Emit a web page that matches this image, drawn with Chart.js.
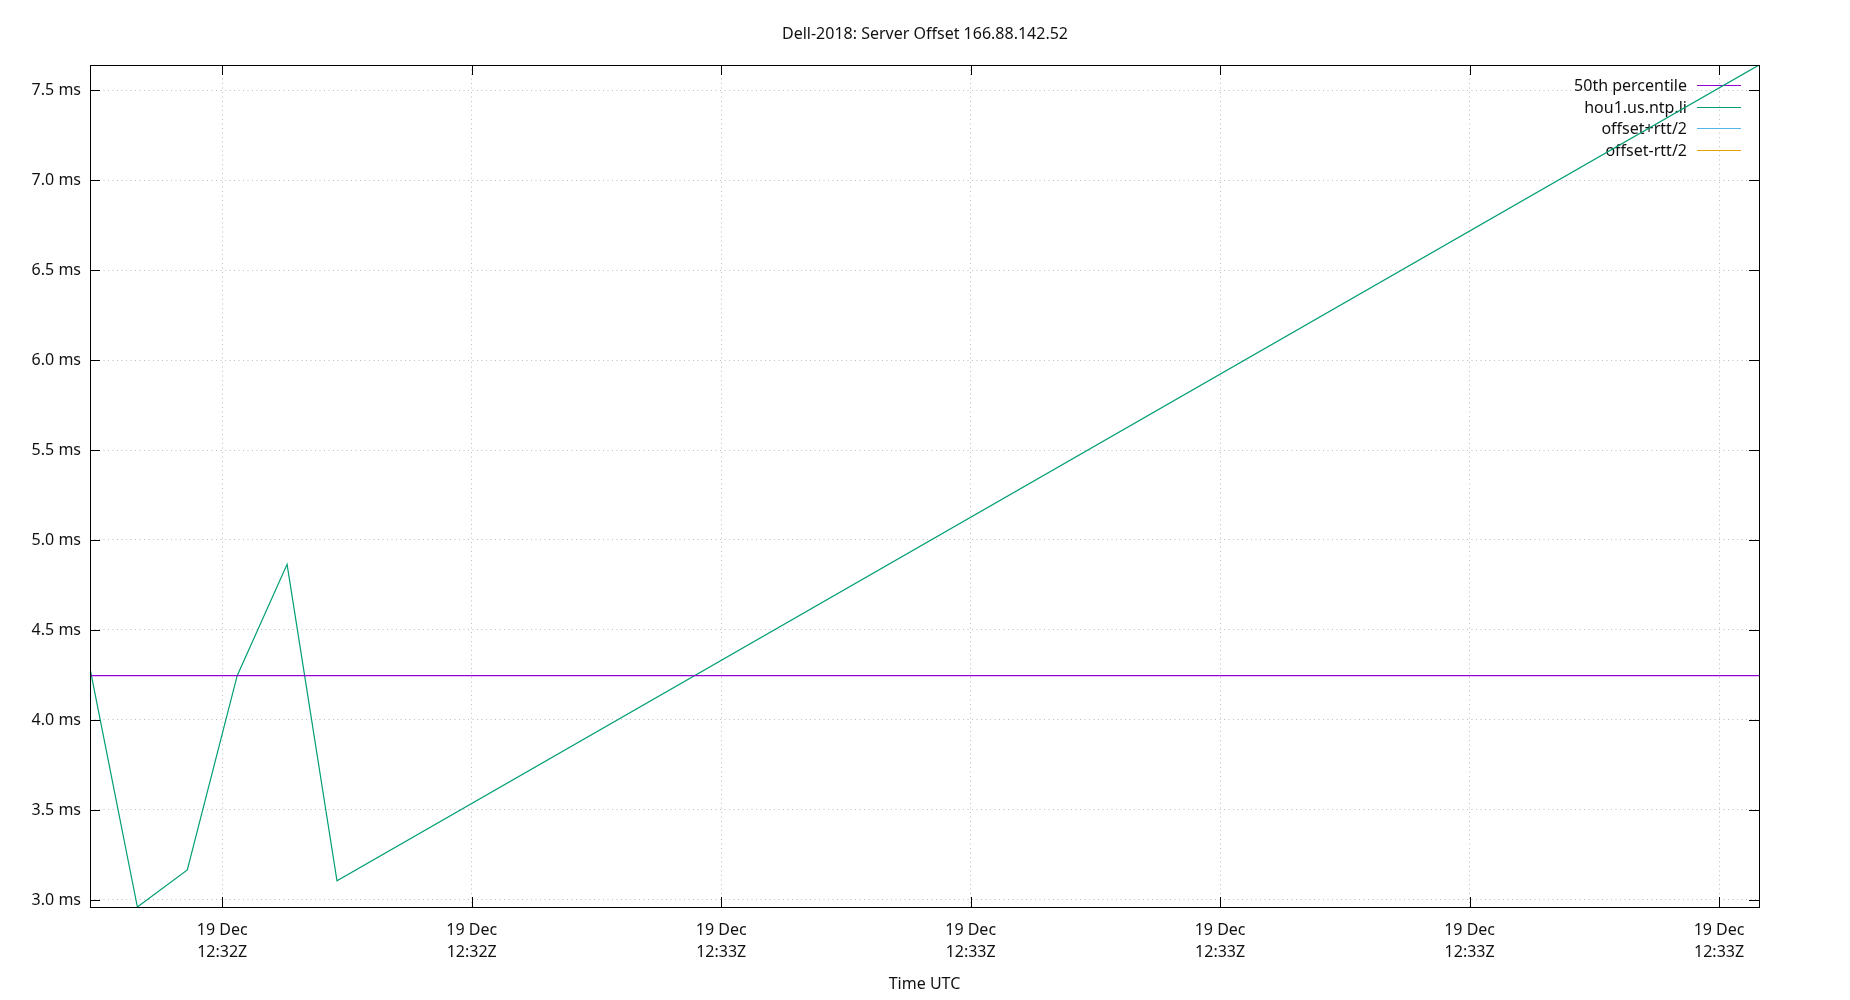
<!DOCTYPE html>
<html>
<head>
<meta charset="utf-8">
<script src="https://cdn.jsdelivr.net/npm/chart.js@4/dist/chart.umd.min.js"></script>
<style>
  body { margin: 0; background: #fff; }
  #wrap { width: 1850px; height: 1000px; }
</style>
</head>
<body>
<div id="wrap"><canvas id="Chart" width="1850" height="1000"></canvas></div>
<script>
// Datos (segundos desde 19 Dec 12:32:00Z, offset en ms)
const timeSec = [34.7, 36.6, 38.6, 40.6, 42.6, 44.6, 101.6];
const offsetMs = [4.287, 2.961, 3.167, 4.246, 4.865, 3.107, 7.639];
const medianMs = [4.246, 4.246];

const xTickValues = [40, 50, 60, 70, 80, 90, 100];
const xTickLabels = [
  ["19 Dec", "12:32Z"], ["19 Dec", "12:32Z"], ["19 Dec", "12:33Z"],
  ["19 Dec", "12:33Z"], ["19 Dec", "12:33Z"], ["19 Dec", "12:33Z"],
  ["19 Dec", "12:33Z"]
];
const yTickValues = [3.0, 3.5, 4.0, 4.5, 5.0, 5.5, 6.0, 6.5, 7.0, 7.5];
const yTickLabels = ["3.0 ms", "3.5 ms", "4.0 ms", "4.5 ms", "5.0 ms",
  "5.5 ms", "6.0 ms", "6.5 ms", "7.0 ms", "7.5 ms"];

const seriesNames = ["50th percentile", "hou1.us.ntp.li", "offset+rtt/2", "offset-rtt/2"];
const seriesColors = ["#9400d3", "#009e73", "#56b4e9", "#e69f00"];

const FONT = "'Noto Sans', 'DejaVu Sans', sans-serif";
const TEXT = "#111111";
const GRID = "#bdbdbd";

const xMin = timeSec[0];
const xMax = timeSec[timeSec.length - 1];

// Marco y marcas hacia adentro (estilo gnuplot)
const framePlugin = {
  id: "frame",
  afterDraw(chart) {
    const { ctx, chartArea: a, scales } = chart;
    ctx.save();
    ctx.strokeStyle = "#000";
    ctx.lineWidth = 1;
    ctx.strokeRect(a.left + 0.5, a.top + 0.5, a.right - a.left, a.bottom - a.top);
    ctx.beginPath();
    yTickValues.forEach(v => {
      const y = Math.round(scales.y.getPixelForValue(v)) + 0.5;
      ctx.moveTo(a.left, y); ctx.lineTo(a.left + 10, y);
      ctx.moveTo(a.right, y); ctx.lineTo(a.right - 10, y);
    });
    xTickValues.forEach(v => {
      const x = Math.round(scales.x.getPixelForValue(v)) + 0.5;
      ctx.moveTo(x, a.bottom); ctx.lineTo(x, a.bottom - 10);
      ctx.moveTo(x, a.top); ctx.lineTo(x, a.top + 10);
    });
    ctx.stroke();
    ctx.restore();
  }
};

// Leyenda: texto a la izquierda, muestra de linea a la derecha
const keyPlugin = {
  id: "key",
  beforeDatasetsDraw(chart) {
    const { ctx } = chart;
    ctx.save();
    ctx.font = "16px " + FONT;
    ctx.textAlign = "right";
    ctx.textBaseline = "middle";
    chart.data.datasets.forEach((ds, i) => {
      const y = 86.5 + i * 21.7;
      ctx.fillStyle = TEXT;
      ctx.fillText(ds.label, 1687, y);
      ctx.strokeStyle = ds.borderColor;
      ctx.lineWidth = 1.2;
      ctx.beginPath();
      ctx.moveTo(1697, Math.round(y - 1.5) + 0.5);
      ctx.lineTo(1741, Math.round(y - 1.5) + 0.5);
      ctx.stroke();
    });
    ctx.restore();
  }
};

const chartCanvas = document.getElementById("Chart");

new Chart(chartCanvas, {
  type: "line",
  data: {
    datasets: [
      {
        label: seriesNames[0],
        data: [{ x: xMin, y: medianMs[0] }, { x: xMax, y: medianMs[1] }],
        borderColor: seriesColors[0],
        borderWidth: 1.2
      },
      {
        label: seriesNames[1],
        data: timeSec.map((t, i) => ({ x: t, y: offsetMs[i] })),
        borderColor: seriesColors[1],
        borderWidth: 1.2
      },
      { label: seriesNames[2], data: [], borderColor: seriesColors[2], borderWidth: 1.2 },
      { label: seriesNames[3], data: [], borderColor: seriesColors[3], borderWidth: 1.2 }
    ]
  },
  options: {
    responsive: false,
    animation: false,
    elements: { point: { radius: 0 }, line: { tension: 0 } },
    layout: { padding: 0 },
    plugins: {
      legend: { display: false },
      tooltip: { enabled: false },
      title: {
        display: true,
        text: "Dell-2018: Server Offset 166.88.142.52",
        color: TEXT,
        font: { family: FONT, size: 16, weight: "normal", lineHeight: 1.2 },
        padding: { top: 24.4, bottom: 21.4 }
      }
    },
    scales: {
      x: {
        type: "linear",
        min: xMin,
        max: xMax,
        afterFit(scale) { scale.height = 93; },
        afterBuildTicks(scale) { scale.ticks = xTickValues.map(v => ({ value: v })); },
        ticks: {
          autoSkip: false,
          maxRotation: 0,
          padding: 12,
          color: TEXT,
          font: { family: FONT, size: 16, lineHeight: 1.375 },
          callback: (value, index) => xTickLabels[index]
        },
        grid: { color: GRID, lineWidth: 1, drawTicks: false },
        border: { display: false, dash: [1, 3.5] },
        title: {
          display: true,
          text: "Time UTC",
          color: TEXT,
          font: { family: FONT, size: 16, lineHeight: 1.2 },
          padding: { top: 0, bottom: 6.4 }
        }
      },
      y: {
        type: "linear",
        min: Math.min(...offsetMs),
        max: Math.max(...offsetMs),
        afterFit(scale) { scale.width = 90; },
        afterBuildTicks(scale) { scale.ticks = yTickValues.map(v => ({ value: v })); },
        ticks: {
          padding: 9,
          color: TEXT,
          font: { family: FONT, size: 16 },
          callback: (value, index) => yTickLabels[index]
        },
        grid: { color: GRID, lineWidth: 1, drawTicks: false },
        border: { display: false, dash: [1, 3.5] }
      },
      // eje vacio a la derecha solo para reservar el margen
      yRight: {
        type: "linear",
        position: "right",
        afterFit(scale) { scale.width = 91; },
        ticks: { display: false },
        grid: { display: false, drawTicks: false },
        border: { display: false }
      }
    }
  },
  plugins: [keyPlugin, framePlugin]
});
</script>
</body>
</html>
